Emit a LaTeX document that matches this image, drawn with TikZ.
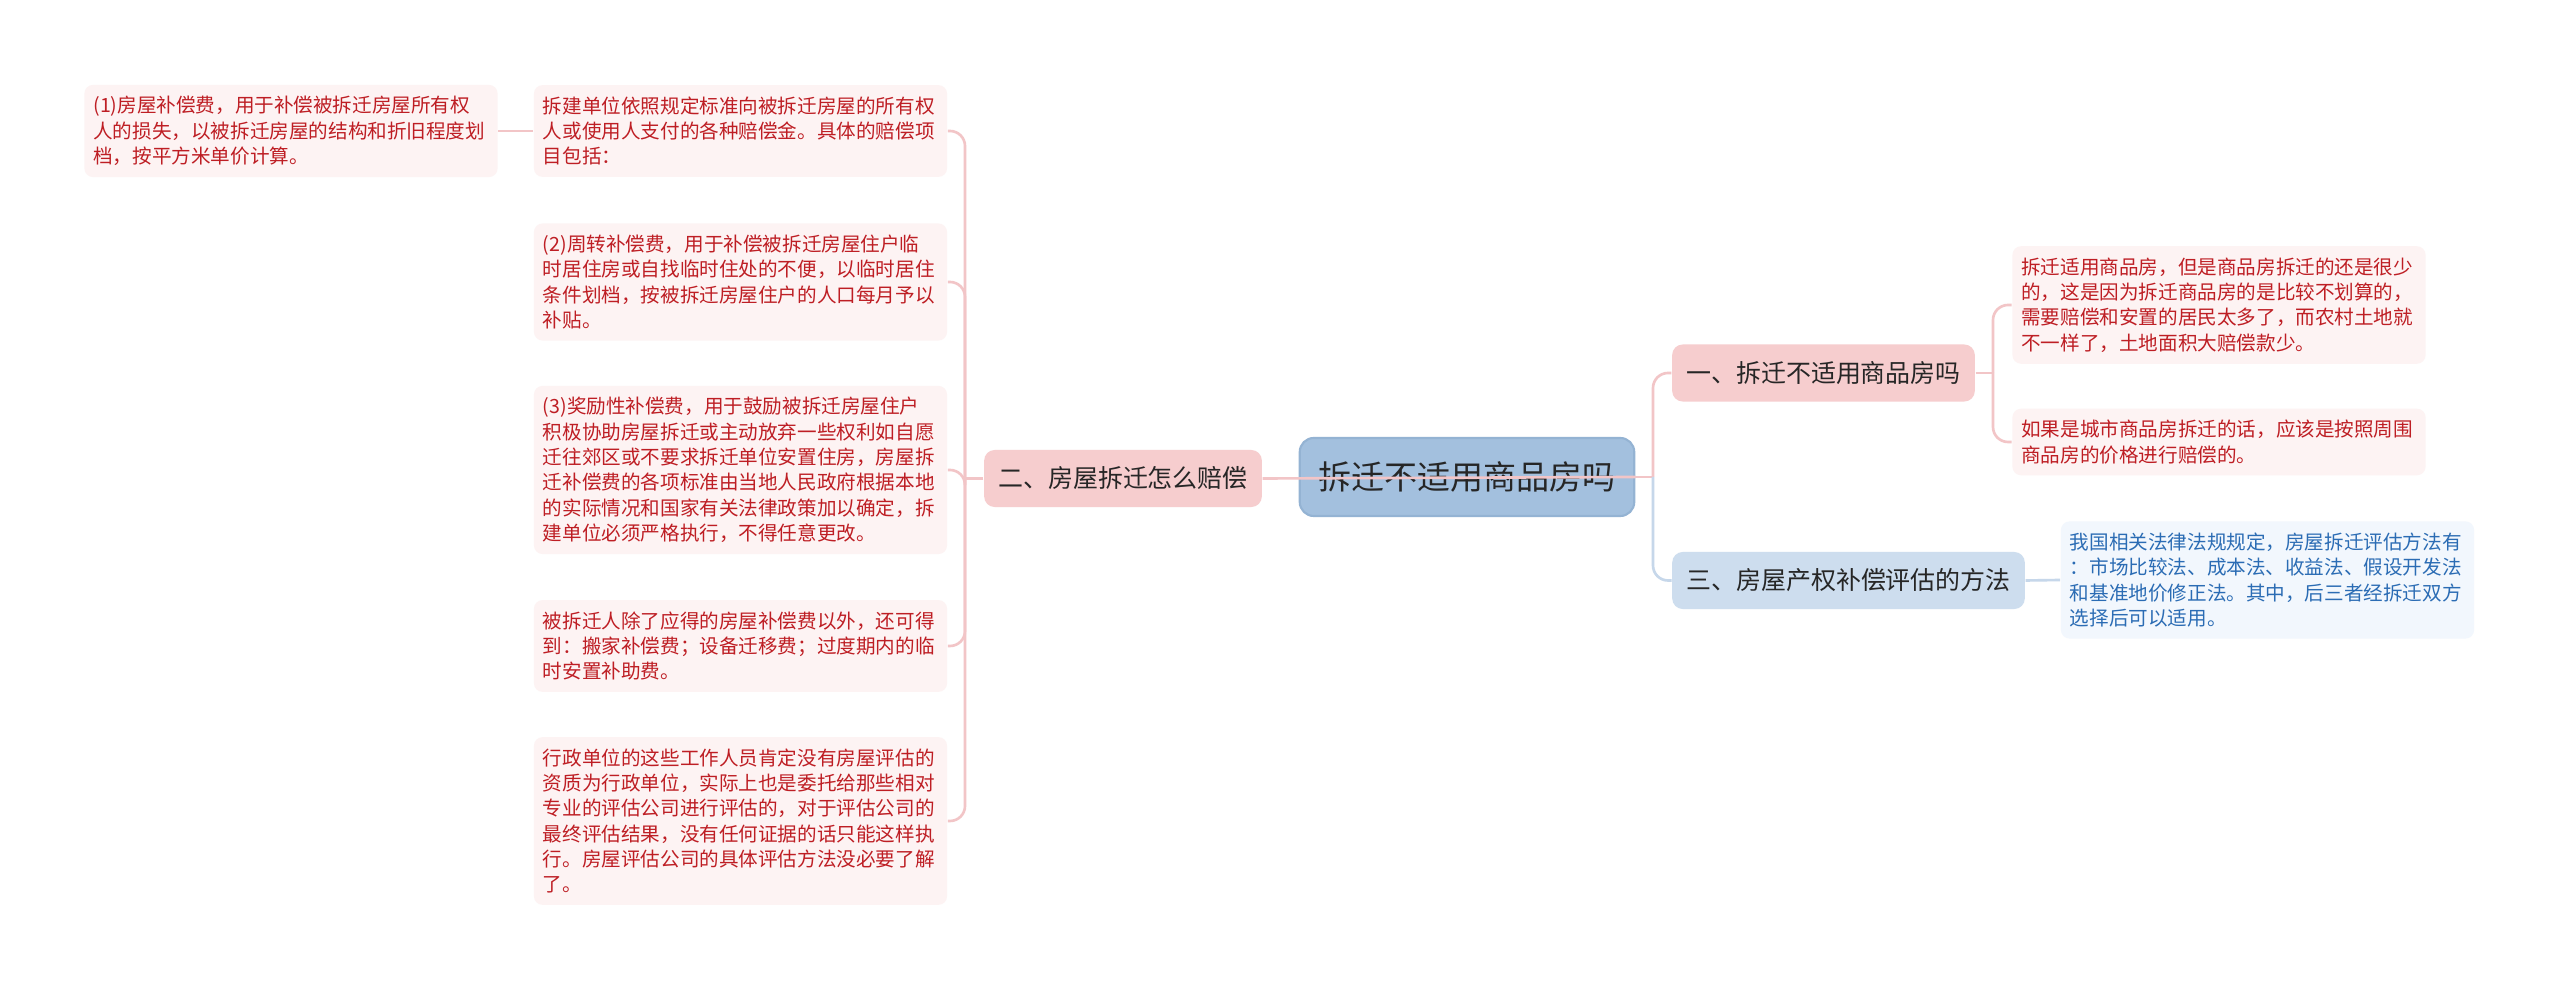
\documentclass[tikz,border=0pt]{standalone}
\usepackage{fontspec}
\newfontfamily\cjk{Noto Sans CJK SC}
\usepackage{xcolor}
\definecolor{Rootfill}{HTML}{A3C0DE}
\definecolor{Rootdraw}{HTML}{94B3D3}
\definecolor{Pinkfill}{HTML}{F6CDCE}
\definecolor{Bluefill}{HTML}{CDDDEE}
\definecolor{Leafred}{HTML}{FDF3F3}
\definecolor{Leafblue}{HTML}{F2F7FD}
\definecolor{Textred}{HTML}{BE1E24}
\definecolor{Textblue}{HTML}{2B6CB4}
\definecolor{Textdark}{HTML}{262626}
\definecolor{Linepink}{HTML}{F2C5C7}
\definecolor{Lineblue}{HTML}{C6D7EA}
\usepackage{tikz}

\begin{document}
\begin{tikzpicture}[
  x=0.01cm, y=-0.01cm,
  rootbox/.style={rectangle, rounded corners=4pt,
                  draw=Rootdraw, fill=Rootfill, line width=0.6pt,
                  minimum height=0.78cm, inner xsep=0.185cm,
                  font=\cjk\fontsize{9.4pt}{11pt}\selectfont, text=Textdark},
  branchbox/.style={rectangle, rounded corners=3pt,
                    fill=Pinkfill, minimum height=0.57cm, inner xsep=0.14cm,
                    font=\cjk\fontsize{7.1pt}{8.5pt}\selectfont, text=Textdark},
  leafbox/.style={rectangle, rounded corners=2.5pt,
                  fill=Leafred, text=Textred,
                  text width=3.95cm, inner xsep=0.09cm, inner ysep=0.115cm,
                  align=left, font=\cjk\fontsize{5.57pt}{7.2pt}\selectfont},
  link/.style={draw=Linepink, line width=0.75pt},
  bluelink/.style={draw=Lineblue, line width=0.75pt}
]

\fill[white] (0,0) rectangle (2560,992);
\useasboundingbox (0,0) rectangle (2560,992);

%% --- ROOT ---
\node[rootbox] (root) at (1467,477) {拆迁不适用商品房吗};

%% --- BRANCHES ---
\node[branchbox] (yi)  at (1823.5,373) {一、拆迁不适用商品房吗};
\node[branchbox] (er)  at (1123,478.5) {二、房屋拆迁怎么赔偿};
\node[branchbox, fill=Bluefill] (san) at (1848.5,580.5) {三、房屋产权补偿评估的方法};

%% --- LEAVES OF BRANCH ONE ---
\node[leafbox] (yia) at (2219,305) {拆迁适用商品房，但是商品房拆迁的还是很少\\
  的，这是因为拆迁商品房的是比较不划算的，\\
  需要赔偿和安置的居民太多了，而农村土地就\\
  不一样了，土地面积大赔偿款少。};
\node[leafbox] (yib) at (2219,442) {如果是城市商品房拆迁的话，应该是按照周围\\
  商品房的价格进行赔偿的。};

%% --- LEAVES OF BRANCH TWO ---
\node[leafbox] (erintro) at (740.5,131) {拆建单位依照规定标准向被拆迁房屋的所有权\\
  人或使用人支付的各种赔偿金。具体的赔偿项\\
  目包括：};
\node[leafbox] (erone) at (291,131) {(1)房屋补偿费，用于补偿被拆迁房屋所有权\\
  人的损失，以被拆迁房屋的结构和折旧程度划\\
  档，按平方米单价计算。};
\node[leafbox] (ertwo) at (740.5,282) {(2)周转补偿费，用于补偿被拆迁房屋住户临\\
  时居住房或自找临时住处的不便，以临时居住\\
  条件划档，按被拆迁房屋住户的人口每月予以\\
  补贴。};
\node[leafbox] (erthree) at (740.5,470) {(3)奖励性补偿费，用于鼓励被拆迁房屋住户\\
  积极协助房屋拆迁或主动放弃一些权利如自愿\\
  迁往郊区或不要求拆迁单位安置住房，房屋拆\\
  迁补偿费的各项标准由当地人民政府根据本地\\
  的实际情况和国家有关法律政策加以确定，拆\\
  建单位必须严格执行，不得任意更改。};
\node[leafbox] (erextra) at (740.5,646) {被拆迁人除了应得的房屋补偿费以外，还可得\\
  到：搬家补偿费；设备迁移费；过度期内的临\\
  时安置补助费。};
\node[leafbox] (erassess) at (740.5,821) {行政单位的这些工作人员肯定没有房屋评估的\\
  资质为行政单位，实际上也是委托给那些相对\\
  专业的评估公司进行评估的，对于评估公司的\\
  最终评估结果，没有任何证据的话只能这样执\\
  行。房屋评估公司的具体评估方法没必要了解\\
  了。};

%% --- LEAF OF BRANCH THREE ---
\node[leafbox, fill=Leafblue, text=Textblue] (sana) at (2267.5,580) {我国相关法律法规规定，房屋拆迁评估方法有\\
  ：市场比较法、成本法、收益法、假设开发法\\
  和基准地价修正法。其中，后三者经拆迁双方\\
  选择后可以适用。};

%% --- SPINE POINTS ---
\coordinate (spineL) at (965,478.5);
\coordinate (spineR) at (1653,477);
\coordinate (spineYi) at (1993,373);

%% --- CONNECTORS ---
\draw[link] (er.east) -- (root.east);
\draw[link] (root.east) -- (spineR);
\draw[link, rounded corners=0.15cm] (spineR) |- (yi.west);
\draw[bluelink, rounded corners=0.15cm] (spineR) |- (san.west);

\draw[link] (yi.east) -- (spineYi);
\foreach \leaf in {yia, yib}
  \draw[link, rounded corners=0.15cm] (spineYi) |- (\leaf.west);

\draw[link] (er.west) -- (spineL);
\foreach \leaf in {erintro, ertwo, erthree, erextra, erassess}
  \draw[link, rounded corners=0.15cm] (spineL) |- (\leaf.east);
\draw[link] (erintro.west) -- (erone.east);

\draw[bluelink] (san.east) -- (sana.west);

\end{tikzpicture}
\end{document}
